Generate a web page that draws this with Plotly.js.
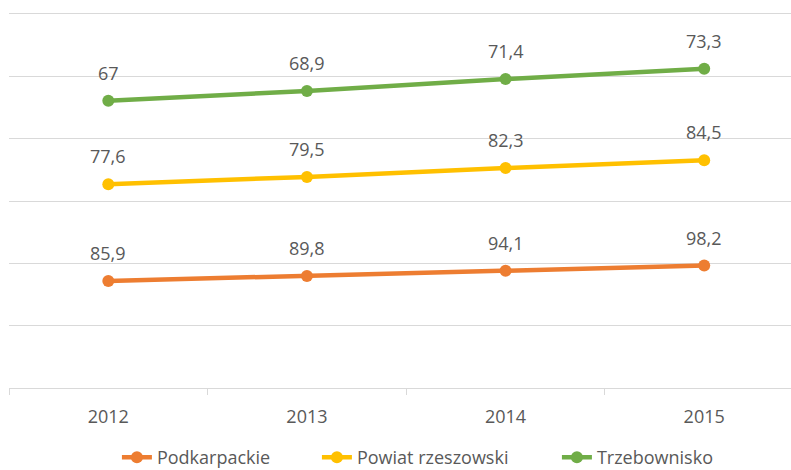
<!DOCTYPE html>
<html>
<head>
<meta charset="utf-8">
<script src="https://cdn.plot.ly/plotly-3.0.1.min.js"></script>
<style>html,body{margin:0;padding:0;background:#fff;}#chart{width:791px;height:470px;}</style>
</head>
<body>
<div id="chart"></div>
<script>
const years = ['2012', '2013', '2014', '2015'];
const seriesNames = ['Podkarpackie', 'Powiat rzeszowski', 'Trzebownisko'];
const podkarpackie = [85.9, 89.8, 94.1, 98.2];
const powiatRzeszowski = [77.6, 79.5, 82.3, 84.5];
const trzebownisko = [67, 68.9, 71.4, 73.3];
const colors = ['#ED7D31', '#FFC000', '#70AD47'];

const series = [podkarpackie, powiatRzeszowski, trzebownisko];
const FONT = '"Open Sans", "Liberation Sans", sans-serif';
const TXT = '#595959';
const legendWidths = [155, 195, 0];

// stacked line chart: cumulative sums
const cum = [];
series.forEach((s, i) => {
  cum.push(s.map((v, j) => (i === 0 ? 0 : cum[i - 1][j]) + v));
});

const fmt = v => String(v).replace('.', ',');

const traces = series.map((s, i) => {
  const t = {
    x: years,
    y: cum[i],
    name: seriesNames[i],
    type: 'scatter',
    mode: 'lines+markers',
    line: {color: colors[i], width: 4.5},
    marker: {color: colors[i], size: 12},
    hoverinfo: 'skip'
  };
  if (legendWidths[i]) t.legendwidth = legendWidths[i];
  return t;
});

const annotations = [];
series.forEach((s, i) => {
  s.forEach((v, j) => {
    annotations.push({
      x: j, y: cum[i][j], xref: 'x', yref: 'y',
      text: fmt(v), showarrow: false, yshift: 28,
      font: {family: FONT, size: 18, color: TXT}
    });
  });
});

const layout = {
  width: 791, height: 470,
  margin: {l: 9, r: 0, t: 12, b: 82, autoexpand: false},
  paper_bgcolor: '#fff', plot_bgcolor: '#fff',
  showlegend: true,
  legend: {
    orientation: 'h', x: 0.138, xanchor: 'left', y: -0.136, yanchor: 'top',
    font: {family: FONT, size: 18, color: TXT},
    itemwidth: 30, traceorder: 'normal', borderwidth: 0
  },
  xaxis: {
    type: 'category', range: [-0.5, 3.437],
    showline: true, linecolor: '#d9d9d9', linewidth: 1,
    ticks: 'outside', tickson: 'boundaries', ticklen: 6, tickcolor: '#d9d9d9',
    showgrid: false, zeroline: false,
    tickfont: {family: FONT, size: 18, color: TXT},
    ticklabelstandoff: 12
  },
  yaxis: {
    range: [0, 301.6], tick0: 0, dtick: 50, showticklabels: false,
    showgrid: true, gridcolor: '#d9d9d9', gridwidth: 1,
    zeroline: false, showline: false, ticks: ''
  },
  annotations: annotations
};

Plotly.newPlot('chart', traces, layout, {staticPlot: true, displayModeBar: false});
</script>
</body>
</html>
